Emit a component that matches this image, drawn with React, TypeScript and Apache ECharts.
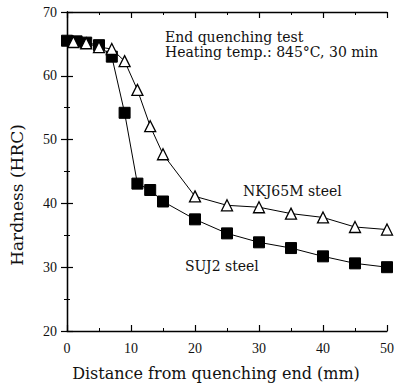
import React, { useEffect, useRef } from "react";
import * as echarts from "echarts";

const nkjX = [1, 3, 5, 7, 9, 11, 13, 15, 20, 25, 30, 35, 40, 45, 50];
const nkjY = [65.3, 65.1, 64.5, 64.2, 62.3, 57.8, 52.1, 47.7, 41.1, 39.7, 39.4, 38.4, 37.8, 36.3, 35.9];
const sujX = [0, 1.5, 3, 5, 7, 9, 11, 13, 15, 20, 25, 30, 35, 40, 45, 50];
const sujY = [65.5, 65.4, 65.2, 64.8, 63.0, 54.2, 43.1, 42.1, 40.3, 37.5, 35.3, 33.9, 33.0, 31.7, 30.6, 30.0];

const xTitle = "Distance from quenching end (mm)";
const yTitle = "Hardness (HRC)";
const note1 = "End quenching test";
const note2 = "Heating temp.: 845\u00B0C, 30 min";
const nkjName = "NKJ65M steel";
const sujName = "SUJ2 steel";

const serif = "DejaVu Serif";
const tickFont = "Liberation Serif";

export default function App() {
  const ref = useRef<HTMLDivElement>(null);
  useEffect(() => {
    if (!ref.current) return;
    const chart = echarts.init(ref.current, null, { renderer: "svg" });
    const axisLine = { show: true, lineStyle: { color: "#000", width: 1.3 } };
    const tick = { show: true, inside: true, length: 6, lineStyle: { color: "#000", width: 1.2 } };
    const minorTick = { show: true, splitNumber: 2, length: 3, lineStyle: { color: "#000", width: 1 } };
    const label = { color: "#111", fontFamily: tickFont, fontSize: 14 };
    chart.setOption({
      animation: false,
      backgroundColor: "#fff",
      grid: { left: 67, right: 16, top: 12, bottom: 53 },
      xAxis: [
        {
          type: "value", min: 0, max: 50, interval: 10, position: "bottom",
          axisLine, axisTick: tick, minorTick, splitLine: { show: false },
          axisLabel: { ...label, margin: 10 },
        },
        {
          type: "value", min: 0, max: 50, interval: 10, position: "top",
          axisLine, axisTick: tick, minorTick, splitLine: { show: false },
          axisLabel: { show: false },
        },
      ],
      yAxis: [
        {
          type: "value", min: 20, max: 70, interval: 10, position: "left",
          axisLine, axisTick: tick, minorTick, splitLine: { show: false },
          axisLabel: { ...label, margin: 10 },
        },
        {
          type: "value", min: 20, max: 70, interval: 10, position: "right",
          axisLine, axisTick: tick, minorTick, splitLine: { show: false },
          axisLabel: { show: false },
        },
      ],
      series: [
        {
          type: "line",
          data: sujX.map((x, i) => [x, sujY[i]]),
          symbol: "rect",
          symbolSize: 11,
          itemStyle: { color: "#000", borderColor: "#000" },
          lineStyle: { color: "#000", width: 1 },
          z: 2,
        },
        {
          type: "line",
          data: nkjX.map((x, i) => [x, nkjY[i]]),
          symbol: "triangle",
          symbolSize: 11,
          itemStyle: { color: "#fff", borderColor: "#000", borderWidth: 1.3 },
          lineStyle: { color: "#000", width: 1 },
          z: 3,
        },
      ],
      graphic: [
        { type: "text", left: 165, top: 30, style: { text: note1, font: `14px "${serif}"`, fill: "#111" } },
        { type: "text", left: 165, top: 45, style: { text: note2, font: `14px "${serif}"`, fill: "#111" } },
        { type: "text", left: 243, top: 184, style: { text: nkjName, font: `14px "${serif}"`, fill: "#111" } },
        { type: "text", left: 185, top: 259, style: { text: sujName, font: `14px "${serif}"`, fill: "#111" } },
        {
          type: "text", x: 216, y: 373,
          style: { text: xTitle, font: `16px "${serif}"`, fill: "#111", align: "center", verticalAlign: "middle" },
        },
        {
          type: "text", x: 17, y: 195, rotation: Math.PI / 2,
          style: { text: yTitle, font: `17px "${serif}"`, fill: "#111", align: "center", verticalAlign: "middle" },
        },
      ],
    });
    return () => chart.dispose();
  }, []);
  return <div ref={ref} style={{ width: 403, height: 384, position: "absolute", left: 0, top: 0 }} />;
}
